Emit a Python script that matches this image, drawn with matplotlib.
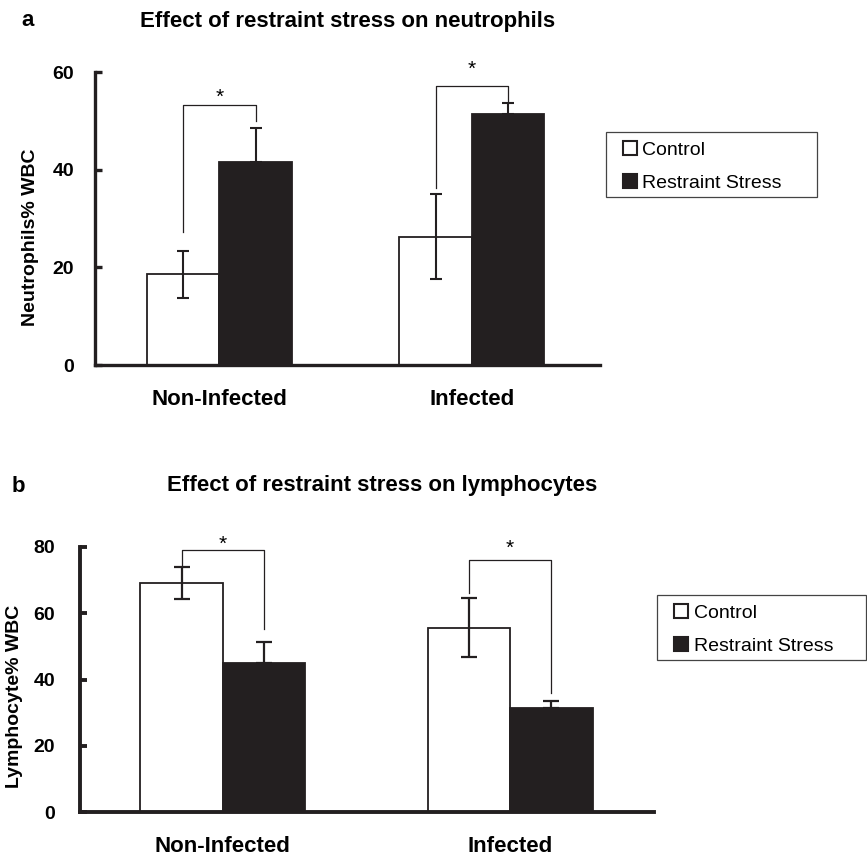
import numpy as np
import matplotlib
matplotlib.use("Agg")
import matplotlib.pyplot as plt
from matplotlib.patches import Patch, Rectangle

plt.rcParams["font.family"] = ["Liberation Sans", "DejaVu Sans"]

# data
groups = ["Non-Infected", "Infected"]
series_labels = ["Control", "Restraint Stress"]

neut_control = [18.6, 26.3]
neut_control_err = [4.8, 8.7]
neut_stress = [41.6, 51.5]
neut_stress_err = [6.9, 2.3]
neut_bracket_left = [27.3, 36.2]
neut_bracket_right = [50.0, 53.8]
neut_bracket_top = [53.3, 57.2]
neut_star_y = [56.0, 61.7]

lymph_control = [69.0, 55.6]
lymph_control_err = [4.8, 8.8]
lymph_stress = [44.9, 31.5]
lymph_stress_err = [6.5, 2.0]
lymph_bracket_left = [73.8, 66.1]
lymph_bracket_right = [55.2, 35.8]
lymph_bracket_top = [79.0, 76.0]
lymph_star_y = [82.5, 81.2]

DARK = "#231f20"
W, H = 867, 859


def fx(px):
    return px / W


def fy(py):
    return 1 - py / H


def draw_panel(ax, control, control_err, stress, stress_err,
               b_left, b_right, b_top, star_y, ylabel, yticks,
               xlim, spine_w, cap, ewidth, ytick_pad, label_x):
    x = np.arange(len(groups))
    w = 0.287

    ax.bar(x - w / 2, control, w, color="white", edgecolor=DARK,
           linewidth=1.3, zorder=2)
    ax.bar(x + w / 2, stress, w, color=DARK, edgecolor=DARK,
           linewidth=1.3, zorder=2)
    ax.errorbar(x - w / 2, control, yerr=control_err, fmt="none",
                ecolor=DARK, elinewidth=ewidth, capsize=cap,
                capthick=ewidth, zorder=3)
    ax.errorbar(x + w / 2, stress, yerr=[np.zeros(len(stress)), stress_err],
                fmt="none", ecolor=DARK, elinewidth=ewidth, capsize=cap,
                capthick=ewidth, zorder=3)

    # significance brackets
    for i in range(len(groups)):
        ax.plot([x[i] - w / 2, x[i] - w / 2, x[i] + w / 2, x[i] + w / 2],
                [b_left[i], b_top[i], b_top[i], b_right[i]],
                color=DARK, linewidth=0.9, clip_on=False, zorder=4)
        ax.annotate("*", xy=(x[i], star_y[i]), xytext=(0, -8),
                    textcoords="offset points", ha="center", va="baseline",
                    fontsize=15, annotation_clip=False)

    ax.set_xlim(*xlim)
    ax.set_ylim(yticks[0], yticks[-1])
    ax.set_yticks(yticks)
    ax.set_xticks(x)
    ax.set_xticklabels(groups, fontsize=16, fontweight="bold")
    for lab in ax.get_yticklabels():
        lab.set_fontsize(14)
        lab.set_fontweight("bold")

    ax.spines["top"].set_visible(False)
    ax.spines["right"].set_visible(False)
    ax.spines["left"].set_linewidth(spine_w)
    ax.spines["bottom"].set_linewidth(spine_w)
    ax.spines["left"].set_color(DARK)
    ax.spines["bottom"].set_color(DARK)
    ax.tick_params(axis="x", length=0, pad=17)
    ax.tick_params(axis="y", direction="in", length=5, width=spine_w,
                   color=DARK, pad=ytick_pad)

    ax.set_ylabel(ylabel, fontsize=14, fontweight="bold")
    ax.yaxis.set_label_coords(label_x, 0.438)


fig = plt.figure(figsize=(8.67, 8.59), dpi=100)

ax_a = fig.add_axes([fx(95), fy(365), fx(600) - fx(95), fy(72.3) - fy(365)])
draw_panel(ax_a, neut_control, neut_control_err, neut_stress, neut_stress_err,
           neut_bracket_left, neut_bracket_right, neut_bracket_top, neut_star_y,
           "Neutrophils% WBC", [0, 20, 40, 60], (-0.4925, 1.508),
           2.4, 4.6, 1.5, 15, -0.111)

ax_b = fig.add_axes([fx(80), fy(812.3), fx(654.3) - fx(80), fy(546.7) - fy(812.3)])
draw_panel(ax_b, lymph_control, lymph_control_err, lymph_stress, lymph_stress_err,
           lymph_bracket_left, lymph_bracket_right, lymph_bracket_top, lymph_star_y,
           "Lymphocyte% WBC", [0, 20, 40, 60, 80], (-0.497, 1.502),
           2.8, 5.8, 1.6, 18, -0.099)

# titles and panel letters
fig.text(fx(348), fy(21), "Effect of restraint stress on neutrophils",
         ha="center", va="center", fontsize=16, fontweight="bold")
fig.text(fx(21), fy(21), "a", ha="left", va="center",
         fontsize=16, fontweight="bold")
fig.text(fx(382), fy(486), "Effect of restraint stress on lymphocytes",
         ha="center", va="center", fontsize=16, fontweight="bold")
fig.text(fx(11.5), fy(487), "b", ha="left", va="center",
         fontsize=16, fontweight="bold")

# legends: frameless entries plus a wider box as in the original
handles = [Patch(facecolor="white", edgecolor=DARK, linewidth=1.5),
           Patch(facecolor=DARK, edgecolor=DARK, linewidth=1.5)]
for hx, top, box in [(623, 141, (605.7, 131.7, 817.3, 197.3)),
                     (674.3, 604, (657.3, 595, 866, 660))]:
    fig.legend(handles, series_labels, loc="upper left",
               bbox_to_anchor=(fx(hx), fy(top)), bbox_transform=fig.transFigure,
               frameon=False, borderpad=0, borderaxespad=0, fontsize=14,
               handlelength=0.7, handleheight=0.7, handletextpad=0.3,
               labelspacing=0.8)
    fig.add_artist(Rectangle((fx(box[0]), fy(box[3])),
                             fx(box[2]) - fx(box[0]), fy(box[1]) - fy(box[3]),
                             transform=fig.transFigure, fill=False,
                             edgecolor="#444444", linewidth=0.9))

fig.savefig("out.png", dpi=100)
